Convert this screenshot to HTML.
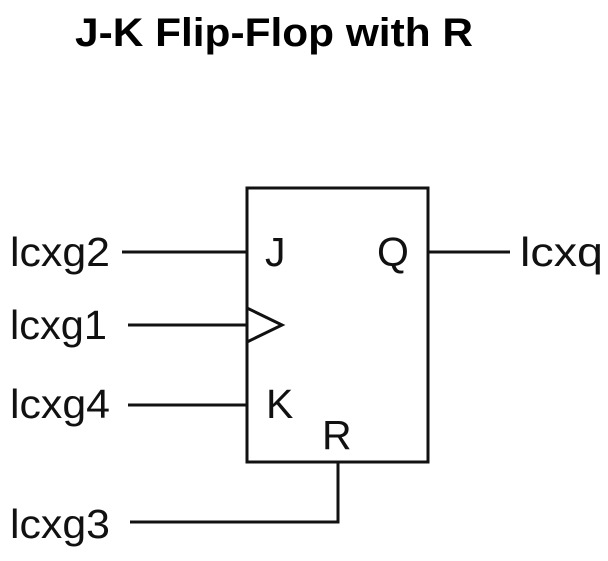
<!DOCTYPE html>
<html><head><style>body{margin:0;background:#fff}</style></head><body>
<svg width="608" height="556" xmlns="http://www.w3.org/2000/svg" font-family="Liberation Sans, sans-serif">
<rect width="608" height="556" fill="#fff"/>
<text x="75" y="46" font-size="40" font-weight="bold" textLength="398" lengthAdjust="spacingAndGlyphs">J-K Flip-Flop with R</text>
<g stroke="#111" stroke-width="3" fill="none">
<rect x="247" y="188" width="181" height="274"/>
<line x1="122" y1="252" x2="247" y2="252"/>
<line x1="128" y1="325" x2="247" y2="325"/>
<polyline points="247,308 282,325 247,342"/>
<line x1="128" y1="405" x2="247" y2="405"/>
<polyline points="338,462 338,522 130,522"/>
<line x1="428" y1="252" x2="510" y2="252"/>
</g>
<g font-size="41" fill="#111" lengthAdjust="spacingAndGlyphs">
<text x="10" y="266" textLength="100" lengthAdjust="spacingAndGlyphs">lcxg2</text>
<text x="10" y="339" textLength="97" lengthAdjust="spacingAndGlyphs">lcxg1</text>
<text x="10" y="418" textLength="100" lengthAdjust="spacingAndGlyphs">lcxg4</text>
<text x="10" y="538" textLength="100" lengthAdjust="spacingAndGlyphs">lcxg3</text>
<text x="520" y="266" textLength="83" lengthAdjust="spacingAndGlyphs">lcxq</text>
<text x="265" y="266">J</text>
<text x="377" y="266">Q</text>
<text x="266" y="418">K</text>
<text x="322" y="449">R</text>
</g>
</svg>
</body></html>
